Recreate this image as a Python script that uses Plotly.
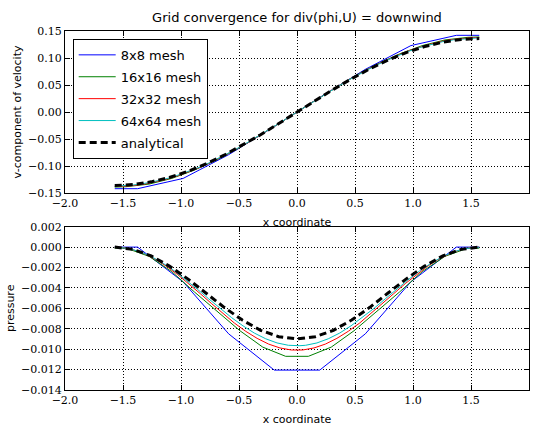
import plotly.graph_objects as go
from plotly.subplots import make_subplots

# ---------------- data ----------------
names = ["8x8 mesh", "16x16 mesh", "32x32 mesh", "64x64 mesh", "analytical"]
colors = ["#0000ff", "#008000", "#ff0000", "#00bfbf", "#000000"]

# 8x8 mesh (boundary + cell centres)
x8 = [-1.571, -1.374, -0.982, -0.589, -0.196, 0.196, 0.589, 0.982, 1.374, 1.571]
v8 = [-0.142, -0.142, -0.123, -0.079, -0.027, 0.027, 0.079, 0.123, 0.142, 0.142]
p8 = [0.0, 0.0, -0.0034, -0.0085, -0.01205, -0.01205, -0.0085, -0.0034, 0.0, 0.0]

# 16x16 mesh
x16 = [-1.571, -1.473, -1.276, -1.080, -0.884, -0.687, -0.491, -0.295, -0.098,
       0.098, 0.295, 0.491, 0.687, 0.884, 1.080, 1.276, 1.473, 1.571]
v16 = [-0.1390, -0.1383, -0.1335, -0.1230, -0.1075, -0.0882, -0.0656, -0.0404, -0.0136,
       0.0136, 0.0404, 0.0656, 0.0882, 0.1075, 0.1230, 0.1335, 0.1383, 0.1390]
p16 = [-0.0001, -0.0001, -0.0009, -0.0024, -0.0044, -0.0063, -0.0082, -0.0098, -0.0107,
       -0.0107, -0.0098, -0.0082, -0.0063, -0.0044, -0.0024, -0.0009, -0.0001, -0.0001]

# 32x32 mesh
x32 = [-1.571, -1.522, -1.424, -1.325, -1.227, -1.129, -1.031, -0.933, -0.834, -0.736,
       -0.638, -0.540, -0.442, -0.344, -0.245, -0.147, -0.049,
       0.049, 0.147, 0.245, 0.344, 0.442, 0.540, 0.638, 0.736, 0.834, 0.933,
       1.031, 1.129, 1.227, 1.325, 1.424, 1.522, 1.571]
v32 = [-0.1380, -0.1378, -0.1365, -0.1339, -0.1299, -0.1248, -0.1184, -0.1108, -0.1023, -0.0927,
       -0.0821, -0.0709, -0.0591, -0.0465, -0.0335, -0.0203, -0.0068,
       0.0068, 0.0203, 0.0335, 0.0465, 0.0591, 0.0709, 0.0821, 0.0927, 0.1023, 0.1108,
       0.1184, 0.1248, 0.1299, 0.1339, 0.1365, 0.1378, 0.1380]
p32 = [-0.00002, -0.00002, -0.00022, -0.0006, -0.00115, -0.00185, -0.00267, -0.00358, -0.00456, -0.00554,
       -0.00651, -0.00744, -0.00825, -0.00894, -0.0095, -0.00988, -0.01008,
       -0.01008, -0.00988, -0.0095, -0.00894, -0.00825, -0.00744, -0.00651, -0.00554, -0.00456, -0.00358,
       -0.00267, -0.00185, -0.00115, -0.0006, -0.00022, -0.00002, -0.00002]

# 64x64 mesh
x64 = [-1.571, -1.546, -1.448, -1.350, -1.252, -1.154, -1.055, -0.957, -0.859, -0.761,
       -0.663, -0.565, -0.466, -0.368, -0.270, -0.172, -0.074, -0.025,
       0.025, 0.074, 0.172, 0.270, 0.368, 0.466, 0.565, 0.663, 0.761, 0.859,
       0.957, 1.055, 1.154, 1.252, 1.350, 1.448, 1.546, 1.571]
v64 = [-0.1370, -0.1370, -0.1360, -0.1337, -0.1301, -0.1252, -0.1192, -0.1120, -0.1037, -0.0945,
       -0.0843, -0.0733, -0.0616, -0.0493, -0.0365, -0.0234, -0.0101, -0.0034,
       0.0034, 0.0101, 0.0234, 0.0365, 0.0493, 0.0616, 0.0733, 0.0843, 0.0945, 0.1037,
       0.1120, 0.1192, 0.1252, 0.1301, 0.1337, 0.1360, 0.1370, 0.1370]
p64 = [-0.00001, -0.00001, -0.00015, -0.00046, -0.00095, -0.00159, -0.00235, -0.00321, -0.00413, -0.00507,
       -0.00601, -0.0069, -0.00771, -0.00842, -0.00898, -0.00939, -0.00962, -0.00966,
       -0.00966, -0.00962, -0.00939, -0.00898, -0.00842, -0.00771, -0.0069, -0.00601, -0.00507, -0.00413,
       -0.00321, -0.00235, -0.00159, -0.00095, -0.00046, -0.00015, -0.00001, -0.00001]

# analytical
xa = [-1.571, -1.414, -1.257, -1.100, -0.942, -0.785, -0.628, -0.471, -0.314, -0.157, 0.0,
      0.157, 0.314, 0.471, 0.628, 0.785, 0.942, 1.100, 1.257, 1.414, 1.571]
va = [-0.1360, -0.1344, -0.1293, -0.1212, -0.1100, -0.0962, -0.0800, -0.0617, -0.0420, -0.0213, 0.0,
      0.0213, 0.0420, 0.0617, 0.0800, 0.0962, 0.1100, 0.1212, 0.1293, 0.1344, 0.1360]
pa = [0.0, -0.00022, -0.00086, -0.00186, -0.00311, -0.0045, -0.0059, -0.00715, -0.00815, -0.00878, -0.0090,
      -0.00878, -0.00815, -0.00715, -0.0059, -0.0045, -0.00311, -0.00186, -0.00086, -0.00022, 0.0]

xs = [x8, x16, x32, x64, xa]
vs = [v8, v16, v32, v64, va]
ps = [p8, p16, p32, p64, pa]

title = "Grid convergence for div(phi,U) = downwind"
xlabel = "x coordinate"
ylabel_top = "v-component of velocity"
ylabel_bot = "pressure"

# ---------------- figure ----------------
fig = make_subplots(rows=2, cols=1, vertical_spacing=0.0)

for i, name in enumerate(names):
    is_ana = name == "analytical"
    line = dict(color=colors[i], width=3 if is_ana else 1)
    if is_ana:
        line["dash"] = "7px,4px"
    fig.add_trace(go.Scatter(x=xs[i], y=vs[i], mode="lines", name=name, line=line,
                             legendgroup=name, showlegend=True), row=1, col=1)
    fig.add_trace(go.Scatter(x=xs[i], y=ps[i], mode="lines", name=name, line=line,
                             legendgroup=name, showlegend=False), row=2, col=1)

tickfont = dict(family="DejaVu Serif", size=11, color="black")
labfont = dict(family="DejaVu Sans", size=11, color="black")
common = dict(showline=True, linecolor="black", linewidth=1, mirror="allticks",
              ticks="inside", ticklen=5, tickcolor="black", tickwidth=1,
              showgrid=True, gridcolor="black", gridwidth=1, griddash="1px,2px",
              zeroline=False, tickfont=tickfont)

fig.update_xaxes(range=[-2, 2], dtick=0.5, tick0=-2, tickformat=".1f", **common)
fig.update_xaxes(title=dict(text=xlabel, font=labfont, standoff=9), row=1, col=1)
fig.update_xaxes(title=dict(text=xlabel, font=labfont, standoff=9), row=2, col=1)
fig.update_yaxes(range=[-0.15, 0.15], dtick=0.05, tick0=-0.15, tickformat=".2f",
                 domain=[0.5487, 1.0], title=dict(text=ylabel_top, font=labfont, standoff=4),
                 row=1, col=1, **common)
fig.update_yaxes(range=[-0.014, 0.002], dtick=0.002, tick0=-0.014, tickformat=".3f",
                 domain=[0.0, 0.4549], title=dict(text=ylabel_bot, font=labfont, standoff=4),
                 row=2, col=1, **common)

fig.update_layout(
    width=537, height=426,
    margin=dict(l=65, r=8, t=31, b=36, autoexpand=False),
    paper_bgcolor="white", plot_bgcolor="white",
    title=dict(text=title, x=0.5, xref="paper", xanchor="center", y=1 - 17 / 426, yanchor="middle",
               font=dict(family="DejaVu Sans", size=13, color="black")),
    legend=dict(x=0.0166, y=0.978, xanchor="left", yanchor="top",
                bgcolor="white", bordercolor="black", borderwidth=1,
                font=dict(family="DejaVu Sans", size=13, color="black"),
                traceorder="grouped", tracegroupgap=2, itemwidth=37),
    showlegend=True,
)

fig.write_html("out.html")
